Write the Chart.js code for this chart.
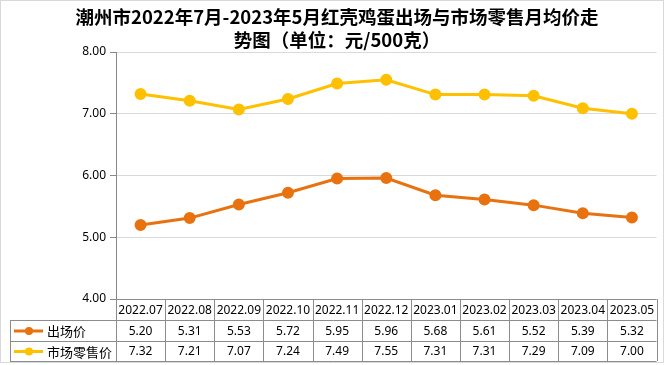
<!DOCTYPE html>
<html>
<head>
<meta charset="utf-8">
<script src="https://cdn.jsdelivr.net/npm/chart.js@4/dist/chart.umd.min.js"></script>
<style>
  html, body { margin: 0; padding: 0; background: #fff; }
  #wrap { width: 664px; height: 365px; position: relative; }
</style>
</head>
<body>
<div id="wrap"><canvas id="c" width="664" height="365"></canvas></div>
<script>
const titleLines = ['潮州市2022年7月-2023年5月红壳鸡蛋出场与市场零售月均价走', '势图（单位：元/500克）'];
const categories = ['2022.07', '2022.08', '2022.09', '2022.10', '2022.11', '2022.12', '2023.01', '2023.02', '2023.03', '2023.04', '2023.05'];
const seriesNames = ['出场价', '市场零售价'];
const factoryPrice = [5.20, 5.31, 5.53, 5.72, 5.95, 5.96, 5.68, 5.61, 5.52, 5.39, 5.32];
const retailPrice = [7.32, 7.21, 7.07, 7.24, 7.49, 7.55, 7.31, 7.31, 7.29, 7.09, 7.00];
const yTicks = [4, 5, 6, 7, 8];

const ORANGE = '#E8720F';
const YELLOW = '#FFC000';
const LINE = '#8c8c8c';

const tablePlugin = {
  id: 'dataTable',
  afterDraw(chart) {
    const ctx = chart.ctx;
    const xs = chart.scales.x;
    const area = chart.chartArea;
    const n = categories.length;
    const colW = (area.right - area.left) / n;
    const top = area.bottom;
    const rowH = [21, 21, 20];
    const r1 = top + rowH[0], r2 = r1 + rowH[1], r3 = r2 + rowH[2];
    const leftX = 10;
    ctx.save();
    // outer chart border
    ctx.strokeStyle = '#d9d9d9';
    ctx.lineWidth = 1;
    ctx.strokeRect(0.5, 0.5, 663, 362);

    ctx.strokeStyle = LINE;
    ctx.beginPath();
    ctx.moveTo(area.left, top + 0.5); ctx.lineTo(area.right, top + 0.5);
    ctx.moveTo(leftX, r1 + 0.5); ctx.lineTo(area.right, r1 + 0.5);
    ctx.moveTo(leftX, r2 + 0.5); ctx.lineTo(area.right, r2 + 0.5);
    ctx.moveTo(leftX, r3 + 0.5); ctx.lineTo(area.right, r3 + 0.5);
    ctx.moveTo(leftX + 0.5, r1); ctx.lineTo(leftX + 0.5, r3);
    for (let i = 0; i <= n; i++) {
      const x = Math.round(area.left + i * colW) + 0.5;
      ctx.moveTo(x, top); ctx.lineTo(x, r3);
    }
    ctx.stroke();

    ctx.fillStyle = '#000';
    ctx.textAlign = 'center';
    ctx.textBaseline = 'middle';
    ctx.font = '12px "Noto Sans", sans-serif';
    for (let i = 0; i < n; i++) {
      const cx = xs.getPixelForValue(i);
      ctx.fillText(categories[i], cx, (top + r1) / 2 + 1);
      ctx.fillText(factoryPrice[i].toFixed(2), cx, (r1 + r2) / 2 + 1);
      ctx.fillText(retailPrice[i].toFixed(2), cx, (r2 + r3) / 2 + 1);
    }
    const keys = [[ORANGE, (r1 + r2) / 2], [YELLOW, (r2 + r3) / 2]];
    keys.forEach(([col, y], k) => {
      ctx.strokeStyle = col;
      ctx.lineWidth = 3;
      ctx.beginPath();
      ctx.moveTo(14, y + 0.5); ctx.lineTo(43, y + 0.5);
      ctx.stroke();
      ctx.fillStyle = col;
      ctx.beginPath();
      ctx.arc(29, y + 0.5, 4, 0, Math.PI * 2);
      ctx.fill();
      ctx.fillStyle = '#000';
      ctx.textAlign = 'left';
      ctx.font = '13px "Noto Sans CJK SC", sans-serif';
      ctx.fillText(seriesNames[k], 47, y + 1);
    });
    ctx.restore();
  }
};

new Chart(document.getElementById('c'), {
  type: 'line',
  data: {
    labels: categories,
    datasets: [
      {
        label: seriesNames[0], data: factoryPrice,
        borderColor: ORANGE, backgroundColor: ORANGE,
        borderWidth: 3, pointRadius: 4.5, pointHoverRadius: 4.5, tension: 0
      },
      {
        label: seriesNames[1], data: retailPrice,
        borderColor: YELLOW, backgroundColor: YELLOW,
        borderWidth: 3, pointRadius: 4.5, pointHoverRadius: 4.5, tension: 0
      }
    ]
  },
  options: {
    responsive: false,
    animation: false,
    devicePixelRatio: 1,
    layout: { padding: { left: 16, right: 6, top: 0, bottom: 66 } },
    plugins: {
      legend: { display: false },
      tooltip: { enabled: false },
      title: {
        display: true,
        text: titleLines,
        color: '#000',
        font: { family: '"Noto Sans CJK SC", sans-serif', size: 18.5, weight: 'bold', lineHeight: 1.23 },
        padding: { top: 5.5, bottom: 1 }
      }
    },
    scales: {
      x: {
        type: 'category',
        offset: true,
        display: false
      },
      y: {
        min: 4, max: 8,
        afterFit(scale) { scale.width = 100; },
        afterBuildTicks(scale) { scale.ticks = yTicks.map(v => ({ value: v })); },
        ticks: {
          color: '#000',
          font: { family: '"Noto Sans", sans-serif', size: 12 },
          padding: 4,
          callback: v => Number(v).toFixed(2)
        },
        grid: { color: '#d9d9d9', tickColor: '#888', tickLength: 6, lineWidth: 1 },
        border: { display: true, color: '#888', width: 1 }
      }
    }
  },
  plugins: [tablePlugin]
});
</script>
</body>
</html>
